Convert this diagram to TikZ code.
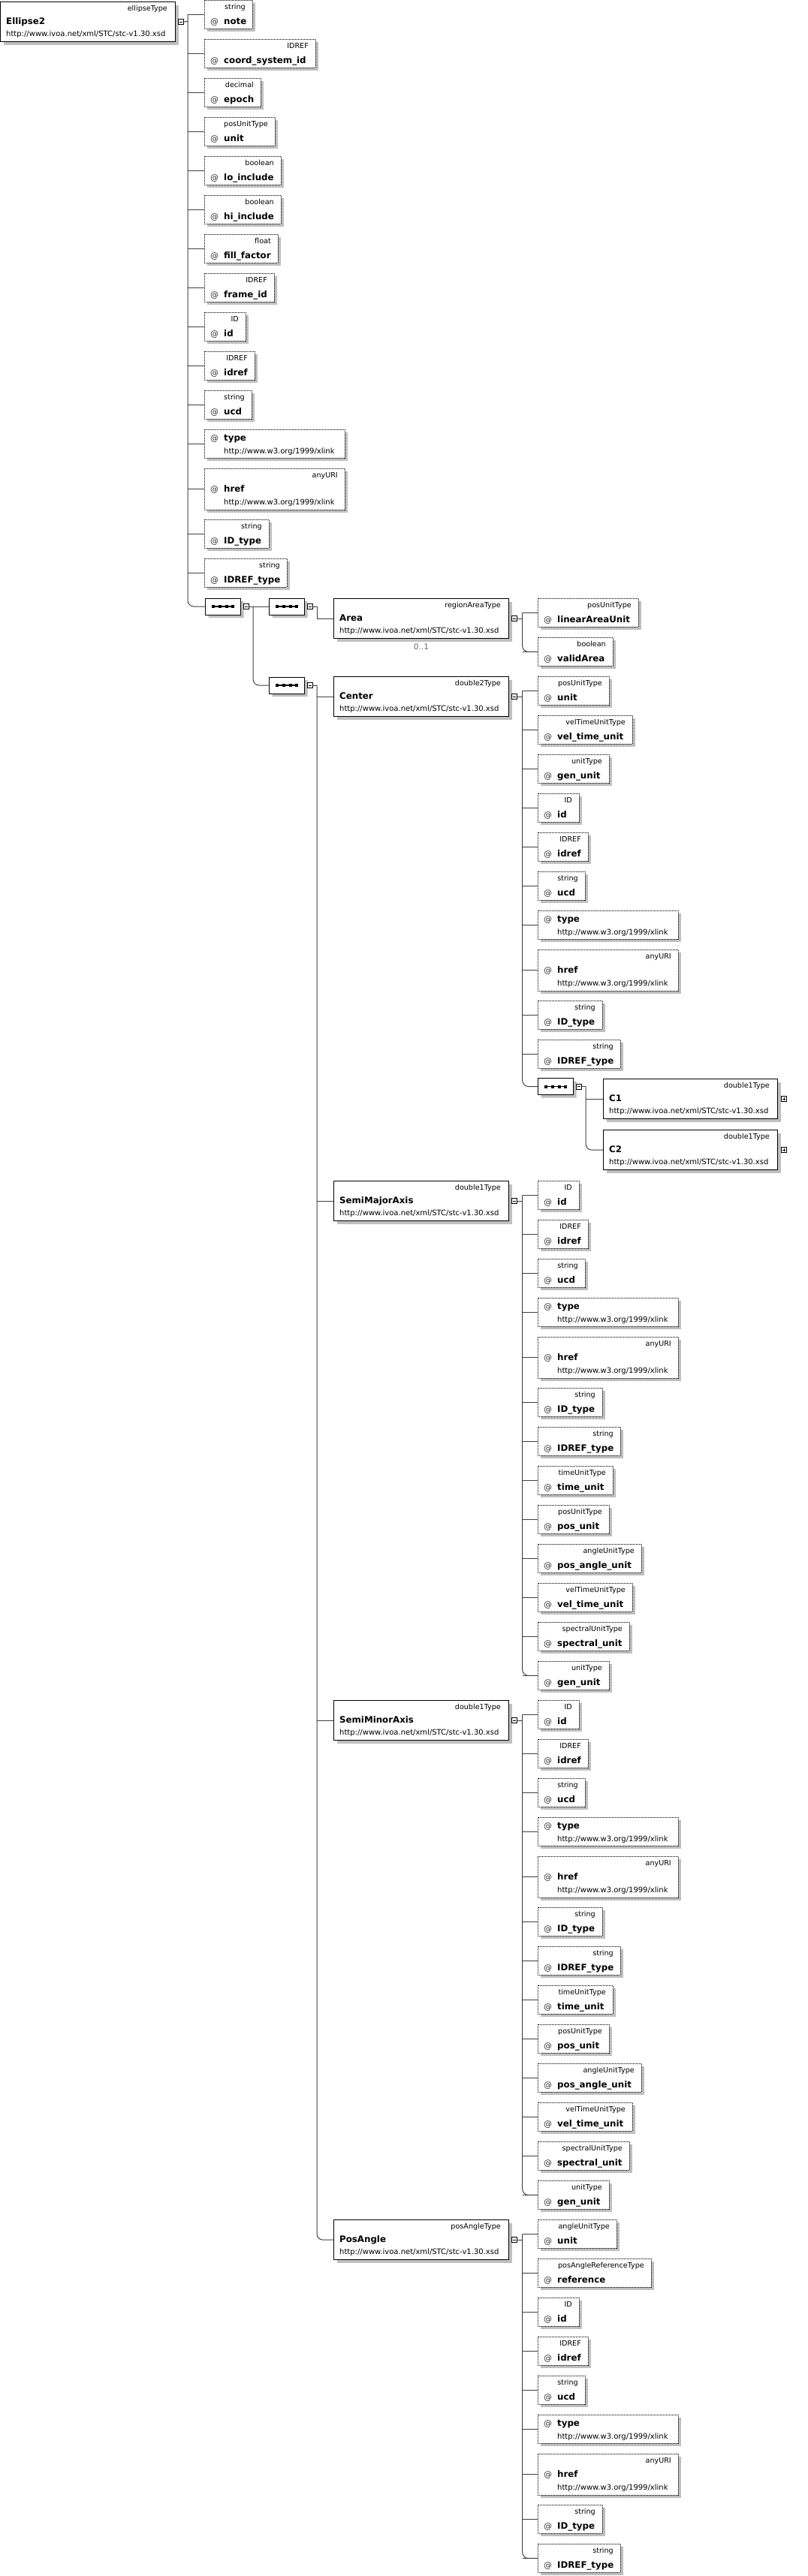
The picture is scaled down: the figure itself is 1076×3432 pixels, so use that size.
\documentclass[tikz,border=0pt]{standalone}
\usepackage{fontspec}
\setmainfont{DejaVu Sans}
\usetikzlibrary{shadows,shapes.misc}

\newcommand{\elembox}[6]{% name, x, top, width, type, element
  \node[elem, minimum width=#4pt] (#1) at (#2,#3) {};
  \node[tlabel] (#1t) at ({#2+#4-10},{#3+12}) {#5};
  \node[ename] (#1n) at ({#2+8},{#3+30}) {#6};
  \node[ulabel] (#1u) at ({#2+8},{#3+46}) {http://www.ivoa.net/xml/STC/stc-v1.30.xsd};
}
\newcommand{\attrbox}[6]{% name, x, top, width, type, attribute
  \node[attr, minimum width=#4pt] (#1) at (#2,#3) {};
  \node[tlabel] (#1t) at ({#2+#4-9},{#3+12.5}) {#5};
  \node[atsign] (#1a) at ({#2+8},{#3+32}) {@};
  \node[aname] (#1n) at ({#2+26},{#3+32}) {#6};
}
\newcommand{\typebox}[4]{% xlink type
  \node[attr, minimum width=#4pt] (#1) at (#2,#3) {};
  \node[atsign] (#1a) at ({#2+8},{#3+15}) {@};
  \node[aname] (#1n) at ({#2+26},{#3+15}) {type};
  \node[ulabel] (#1u) at ({#2+26},{#3+32}) {http://www.w3.org/1999/xlink};
}
\newcommand{\hrefbox}[4]{% xlink href
  \node[attr, minimum width=#4pt, minimum height=55pt] (#1) at (#2,#3) {};
  \node[tlabel] (#1t) at ({#2+#4-9},{#3+12.5}) {anyURI};
  \node[atsign] (#1a) at ({#2+8},{#3+31}) {@};
  \node[aname] (#1n) at ({#2+26},{#3+31}) {href};
  \node[ulabel] (#1u) at ({#2+26},{#3+48}) {http://www.w3.org/1999/xlink};
}

\begin{document}
\begin{tikzpicture}[x=1pt,y=-1pt]

    \tikzset{
      conn/.style={draw=black!75, line width=1pt},
      boxshadow/.style={drop shadow={shadow xshift=4pt, shadow yshift=-4pt, fill=black!25, opacity=1}},
      elem/.style={draw, line width=1.2pt, fill=white, anchor=north west, inner sep=0pt,
        minimum height=53pt, boxshadow},
      attr/.style={draw, line width=0.9pt, dash pattern=on 1pt off 1pt, fill=white,
        anchor=north west, inner sep=0pt, minimum height=38pt, boxshadow},
      tlabel/.style={anchor=base east, inner sep=0pt, font=\fontsize{9.6}{11}\selectfont},
      ulabel/.style={anchor=base west, inner sep=0pt, font=\fontsize{10}{12}\selectfont},
      ename/.style={anchor=base west, inner sep=0pt, font=\fontsize{11.8}{14}\selectfont\bfseries},
      aname/.style={anchor=base west, inner sep=0pt, font=\fontsize{11.8}{14}\selectfont\bfseries},
      atsign/.style={anchor=base west, inner sep=0pt, text=black!80, font=\fontsize{11}{13}\selectfont},
      mult/.style={inner sep=0pt, text=black!60, font=\fontsize{10.5}{12}\selectfont},
      seqbox/.style={chamfered rectangle, chamfered rectangle xsep=6pt, draw, line width=1pt,
        fill=white, inner sep=0pt, minimum width=47pt, minimum height=22pt, anchor=west, boxshadow},
      seqdot/.style={fill=black},
      minus/.style={draw, fill=white, line width=0.8pt, inner sep=0pt, minimum width=7pt,
        minimum height=7pt,
        path picture={\draw[line width=0.8pt] ([xshift=1.5pt]path picture bounding box.west)
          -- ([xshift=-1.5pt]path picture bounding box.east);}},
      plus/.style={draw, fill=white, line width=0.8pt, inner sep=0pt, minimum width=7pt,
        minimum height=7pt,
        path picture={\draw[line width=0.8pt] ([xshift=1.5pt]path picture bounding box.west)
          -- ([xshift=-1.5pt]path picture bounding box.east);
          \draw[line width=0.8pt] ([yshift=-1.5pt]path picture bounding box.north)
          -- ([yshift=1.5pt]path picture bounding box.south);}},
    }
    \useasboundingbox (0,0) rectangle (1076,3432);

    % elements
    \elembox{ellipse}{0}{2}{233}{ellipseType}{Ellipse2}
    \elembox{area}{444}{797}{233}{regionAreaType}{Area}
    \node[mult] (areamult) at (561,862) {0..1};
    \elembox{center}{444}{901}{233}{double2Type}{Center}
    \elembox{cone}{803}{1437}{232}{double1Type}{C1}
    \elembox{ctwo}{803}{1505}{232}{double1Type}{C2}
    \elembox{semimajor}{444}{1573}{233}{double1Type}{SemiMajorAxis}
    \elembox{semiminor}{444}{2265}{233}{double1Type}{SemiMinorAxis}
    \elembox{posangle}{444}{2957}{233}{posAngleType}{PosAngle}

    % sequence compositors
    \node[seqbox] (s1) at (273,808) {};
    \node[seqbox] (s2) at (358,808) {};
    \node[seqbox] (s3) at (358,913) {};
    \node[seqbox] (cseq) at (716,1447.5) {};
    \foreach \s in {s1,s2,s3,cseq} {
      \draw[line width=1.5pt] ([xshift=-13pt]\s.center) -- ([xshift=13pt]\s.center);
      \foreach \dx in {-13,-4.5,4.5,13}
        \fill[seqdot] ([xshift=\dx pt]\s.center) +(-2,-2) rectangle +(2,2);
    }

    \foreach \e in {ellipse,area,center,semimajor,semiminor,posangle}
      \node[minus] (m-\e) at ([xshift=7pt]\e.east) {};
    \foreach \e in {s1,s2,s3,cseq}
      \node[minus] (m-\e) at ([xshift=7pt]\e.east) {};
    \node[plus] (p-cone) at ([xshift=8pt]cone.east) {};
    \node[plus] (p-ctwo) at ([xshift=8pt]ctwo.east) {};

    % attributes of Ellipse2
    \attrbox{r1}{272}{0}{64}{string}{note}
    \attrbox{r2}{272}{52}{148}{IDREF}{coord\_system\_id}
    \attrbox{r3}{272}{104}{75}{decimal}{epoch}
    \attrbox{r4}{272}{156}{94}{posUnitType}{unit}
    \attrbox{r5}{272}{208}{102}{boolean}{lo\_include}
    \attrbox{r6}{272}{260}{102}{boolean}{hi\_include}
    \attrbox{r7}{272}{312}{98}{float}{fill\_factor}
    \attrbox{r8}{272}{364}{93}{IDREF}{frame\_id}
    \attrbox{r9}{272}{416}{55}{ID}{id}
    \attrbox{r10}{272}{468}{67}{IDREF}{idref}
    \attrbox{r11}{272}{520}{63}{string}{ucd}
    \typebox{r12}{272}{572}{187}
    \hrefbox{r13}{272}{624}{187}
    \attrbox{r14}{272}{692}{86}{string}{ID\_type}
    \attrbox{r15}{272}{744}{110}{string}{IDREF\_type}

    % attributes of Area
    \attrbox{ar1}{716}{797}{134}{posUnitType}{linearAreaUnit}
    \attrbox{ar2}{716}{849}{100}{boolean}{validArea}

    % attributes of Center
    \attrbox{ct1}{716}{901}{95}{posUnitType}{unit}
    \attrbox{ct2}{716}{953}{126}{velTimeUnitType}{vel\_time\_unit}
    \attrbox{ct3}{716}{1005}{95}{unitType}{gen\_unit}
    \attrbox{ct4}{716}{1057}{55}{ID}{id}
    \attrbox{ct5}{716}{1109}{67}{IDREF}{idref}
    \attrbox{ct6}{716}{1161}{63}{string}{ucd}
    \typebox{ct7}{716}{1213}{187}
    \hrefbox{ct8}{716}{1265}{187}
    \attrbox{ct9}{716}{1333}{86}{string}{ID\_type}
    \attrbox{ct10}{716}{1385}{110}{string}{IDREF\_type}

    % attributes of SemiMajorAxis and SemiMinorAxis
    \foreach \pre/\yy in {mj/1573, mn/2265} {
      \attrbox{\pre1}{716}{\yy}{55}{ID}{id}
      \attrbox{\pre2}{716}{\yy+52}{67}{IDREF}{idref}
      \attrbox{\pre3}{716}{\yy+104}{63}{string}{ucd}
      \typebox{\pre4}{716}{\yy+156}{187}
      \hrefbox{\pre5}{716}{\yy+208}{187}
      \attrbox{\pre6}{716}{\yy+276}{86}{string}{ID\_type}
      \attrbox{\pre7}{716}{\yy+328}{110}{string}{IDREF\_type}
      \attrbox{\pre8}{716}{\yy+380}{100}{timeUnitType}{time\_unit}
      \attrbox{\pre9}{716}{\yy+432}{95}{posUnitType}{pos\_unit}
      \attrbox{\pre10}{716}{\yy+484}{138}{angleUnitType}{pos\_angle\_unit}
      \attrbox{\pre11}{716}{\yy+536}{126}{velTimeUnitType}{vel\_time\_unit}
      \attrbox{\pre12}{716}{\yy+588}{122}{spectralUnitType}{spectral\_unit}
      \attrbox{\pre13}{716}{\yy+640}{95}{unitType}{gen\_unit}
    }

    % attributes of PosAngle
    \attrbox{pa1}{716}{2957}{105}{angleUnitType}{unit}
    \attrbox{pa2}{716}{3009}{151}{posAngleReferenceType}{reference}
    \attrbox{pa3}{716}{3061}{55}{ID}{id}
    \attrbox{pa4}{716}{3113}{67}{IDREF}{idref}
    \attrbox{pa5}{716}{3165}{63}{string}{ucd}
    \typebox{pa6}{716}{3217}{187}
    \hrefbox{pa7}{716}{3269}{187}
    \attrbox{pa8}{716}{3337}{86}{string}{ID\_type}
    \attrbox{pa9}{716}{3389}{110}{string}{IDREF\_type}

    % connectors of Ellipse2
    \coordinate (t0) at (250,28.5);
    \draw[conn] (m-ellipse.east) -- (t0);
    \foreach \k in {1,...,15} \draw[conn] (r\k.west) -- (r\k.west -| t0);
    \draw[conn, rounded corners=8pt] (r1.west -| t0) |- (s1.west);

    % sequences
    \coordinate (t1) at (337,808);
    \draw[conn] (m-s1.east) -- (s2.west);
    \draw[conn, rounded corners=8pt] (t1) |- (s3.west);
    \coordinate (t2) at (422,808);
    \draw[conn] (m-s2.east) -- (t2) |- (area.west);
    \coordinate (t3) at (422,913);
    \draw[conn] (m-s3.east) -- (t3);
    \foreach \e in {center,semimajor,semiminor} \draw[conn] (\e.west) -- (\e.west -| t3);
    \draw[conn, rounded corners=8pt] (t3) |- (posangle.west);

    % connectors of Center
    \coordinate (trct) at ([xshift=17.5pt]center.east);
    \draw[conn] (m-center.east) -- (trct);
    \foreach \k in {1,...,10} \draw[conn] (ct\k.west) -- (ct\k.west -| trct);
    \draw[conn, rounded corners=8pt] (ct1.west -| trct) |- (cseq.west);
    \coordinate (tq) at (780,1447.5);
    \draw[conn] (m-cseq.east) -- (tq);
    \draw[conn] (cone.west) -- (cone.west -| tq);
    \draw[conn, rounded corners=8pt] (tq) |- (ctwo.west);

    % connectors of the other elements
    \foreach \pre/\e/\n in {ar/area/2, mj/semimajor/13, mn/semiminor/13, pa/posangle/9} {
      \coordinate (tr\pre) at ([xshift=17.5pt]\e.east);
      \draw[conn] (m-\e.east) -- (tr\pre);
      \foreach \k in {1,...,\n} \draw[conn] (\pre\k.west) -- (\pre\k.west -| tr\pre);
      \draw[conn, rounded corners=8pt] (\pre1.west -| tr\pre) |- (\pre\n.west);
    }

\end{tikzpicture}
\end{document}
